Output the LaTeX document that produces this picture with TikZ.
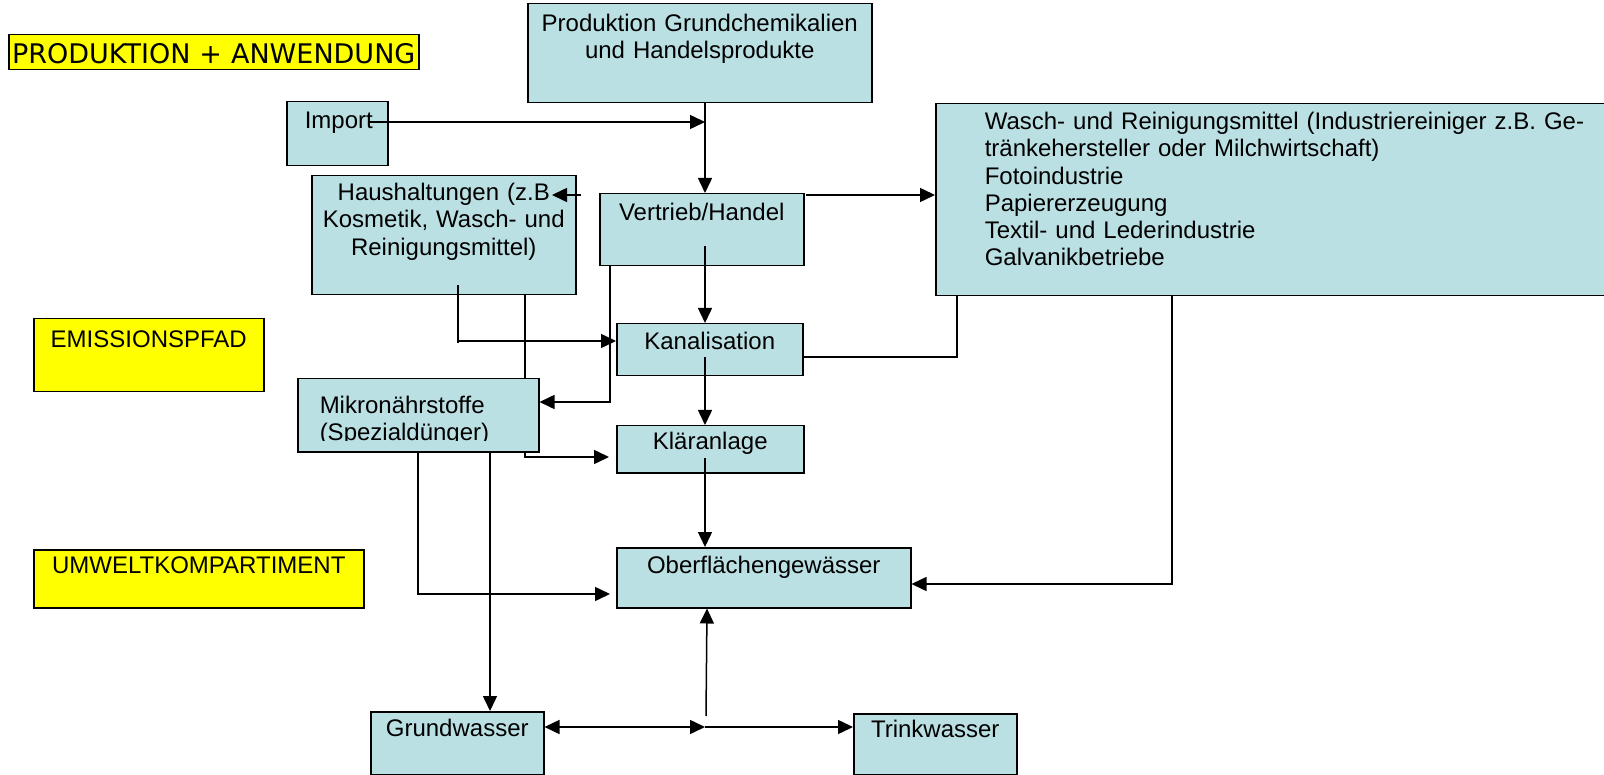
\documentclass[tikz,border=0pt]{standalone}
\usepackage{fontspec}
\setmainfont{Liberation Sans}
\newfontfamily\headfont{DejaVu Sans}
\usepackage{xcolor}
\usetikzlibrary{arrows.meta}

\definecolor{boxblue}{RGB}{187,224,227}
\definecolor{tagyellow}{RGB}{255,255,0}

\begin{document}
\begin{tikzpicture}[x=1pt, y=-1pt,
  box/.style={draw, fill=boxblue, line width=1.5pt, anchor=north west, inner sep=0pt,
    align=center, font=\fontsize{24}{27.2}\selectfont},
  tagbox/.style={box, fill=tagyellow},
  link/.style={line width=1.5pt},
  arr/.style={link, -{Triangle[length=15pt,width=14pt]}},
  twoway/.style={link, {Triangle[length=15pt,width=14pt]}-{Triangle[length=15pt,width=14pt]}}]
\path[use as bounding box, fill=white] (0,0) rectangle (1604,775);

% legend
\node[tagbox, line width=1.5pt, font=\headfont\fontsize{27}{30}\selectfont,
  text width=410pt, text height=29pt, text depth=6pt] (prodanw) at (8,34) {PRODUKTION + ANWENDUNG};
\node[tagbox, text width=230pt, text height=29pt, text depth=44pt] (emission) at (33,318) {EMISSIONSPFAD};
\node[tagbox, text width=330pt, text height=24pt, text depth=34pt] (umwelt) at (33,549) {UMWELTKOMPARTIMENT};

% boxes
\node[box, text width=344pt, text height=28pt, text depth=71pt] (produktion) at (527,3)
  {Produktion Grundchemikalien\\und Handelsprodukte};
\node[box, align=left, inner xsep=18pt, text width=65pt, text height=27pt, text depth=37pt] (import) at (286,101) {Import};
\node[box, text width=264pt, text height=25pt, text depth=94pt] (haushalt) at (311,175)
  {Haushaltungen (z.B\\Kosmetik, Wasch- und\\Reinigungsmittel)};
\node[box, text width=204pt, text height=27pt, text depth=45pt] (vertrieb) at (599,193) {Vertrieb/Handel};
\node[box, align=left, inner xsep=49pt, text width=622pt, text height=26pt, text depth=166pt] (wasch) at (935,103)
  {Wasch- und Reinigungsmittel (Industriereiniger z.B. Ge-\\tränkehersteller oder Milchwirtschaft)\\Fotoindustrie\\Papiererzeugung\\Textil- und Lederindustrie\\Galvanikbetriebe};
\node[box, text width=186pt, text height=26pt, text depth=26pt] (kanal) at (616,323) {Kanalisation};
\node[box, text width=187pt, text height=24pt, text depth=23pt] (klaer) at (616,425) {Kläranlage};
\node[box, text width=294pt, text height=26pt, text depth=34pt] (oberfl) at (616,547) {Oberflächengewässer};
\node[box, text width=173pt, text height=25pt, text depth=38pt] (grund) at (370,711) {Grundwasser};
\node[box, text width=163pt, text height=24pt, text depth=37pt] (trink) at (853,713) {Trinkwasser};

% runs under the Mikronaehrstoffe box
\draw[arr, shorten >=7pt] (haushalt.south -| 525,0) |- (klaer.west |- 0,457);

\node[box, align=left, inner xsep=22pt, text width=197pt, text height=34.5pt, text depth=38.5pt] (mikro) at (297,378)
  {Mikronährstoffe\\(Spezialdünger)};
% text frame cuts the last line
\fill[boxblue] ([xshift=2.5pt, yshift=2.5pt]mikro.south west) rectangle ([xshift=-2.5pt]mikro.east |- 0,441);

% connectors
\coordinate (mainline) at (705,0);
\coordinate (importout) at (368,122);
\coordinate (hhout) at (581,195);
\coordinate (hhin) at (552,195);
\coordinate (vtout) at (806,195);
\coordinate (vtdown) at (705,246);
\coordinate (hhdown) at (458,285);
\coordinate (kdown) at (705,357);
\coordinate (kldown) at (705,458);
\coordinate (junction) at (705,727);
\coordinate (riser) at (706,716);

\draw[arr] (importout) -- (importout -| mainline);
\draw[arr] (produktion.south -| mainline) -- (vertrieb.north -| mainline);
\draw[arr] (hhout) -- (hhin);
\draw[arr] (vtout) -- (vtout -| wasch.west);
\draw[arr] (vtdown) -- (kanal.north -| mainline);
\draw[arr] (vertrieb.south -| 610,0) |- (mikro.east |- 0,402);
\draw[arr] (hhdown) |- (kanal.west |- 0,341);
\draw[link] (hhdown |- 0,341) -- ++(0,2);
\draw[arr] (kdown) -- (klaer.north -| mainline);
\draw[link] (kanal.east |- 0,357) -| (wasch.south -| 957,0);
\draw[arr] (kldown) -- (oberfl.north -| mainline);
\draw[arr] (wasch.south -| 1172,0) |- (oberfl.east |- 0,584);
\draw[arr, shorten >=6pt] (mikro.south -| 418,0) |- (oberfl.west |- 0,594);
\draw[arr] (mikro.south -| 490,0) -- (grund.north -| 490,0);
\draw[twoway] (grund.east |- junction) -- (junction);
\draw[arr] (junction) -- (trink.west |- junction);
\draw[arr] (riser) -- (oberfl.south -| 707,0);
\end{tikzpicture}
\end{document}
